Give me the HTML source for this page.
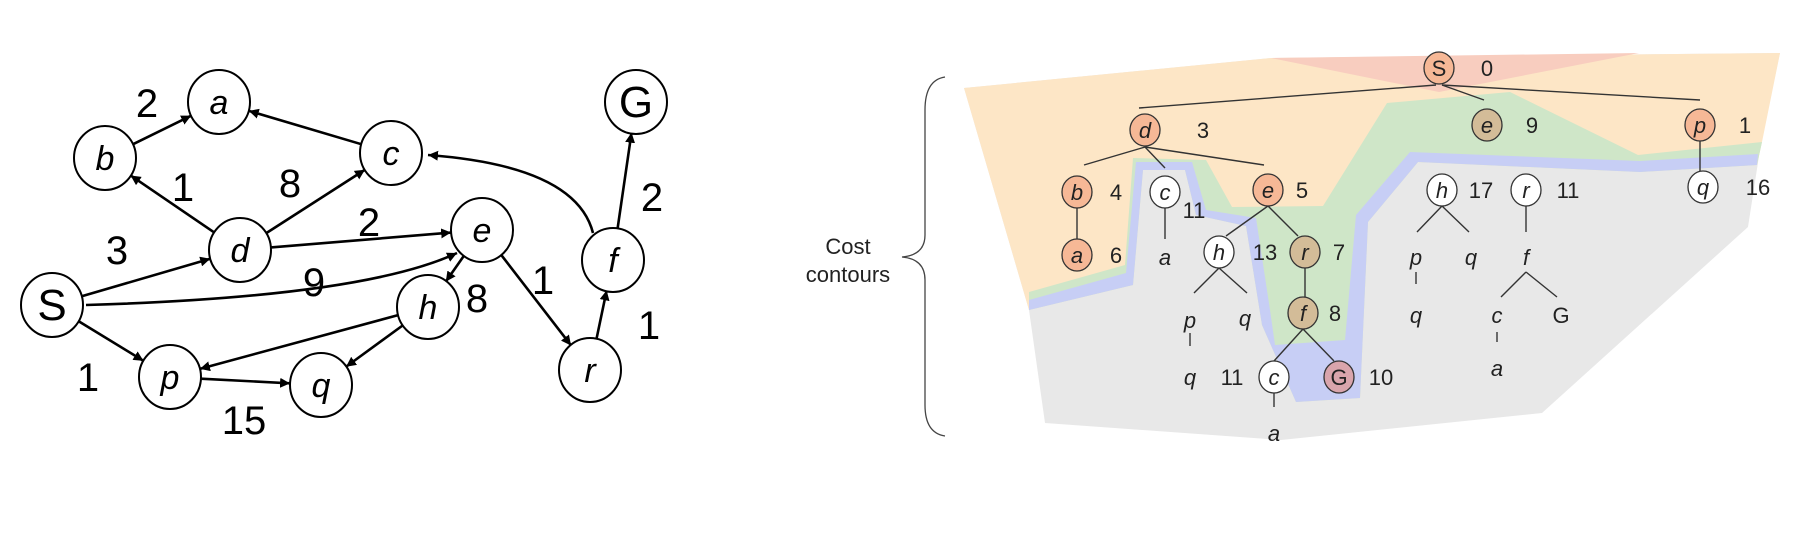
<!DOCTYPE html>
<html><head><meta charset="utf-8"><style>
html,body{margin:0;padding:0;background:#fff;}
svg{display:block;font-family:"Liberation Sans",Arial,sans-serif;}
</style></head><body>
<svg id="fig" width="1812" height="538" viewBox="0 0 1812 538">
<defs><marker id="ah" viewBox="0 0 10 10" refX="10" refY="5" markerWidth="10" markerHeight="10" markerUnits="userSpaceOnUse" orient="auto"><path d="M0,0L10,5L0,10z" fill="#000"/></marker></defs>
<g id="graph"></g>
<g id="tree"></g>
</svg>
<script>
const NS="http://www.w3.org/2000/svg";
const gNodes=[["S",52,305,false],["a",219,102,true],["b",105,158,true],["c",391,153,true],["d",240,250,true],["e",482,230,true],["f",613,260,true],["G",636,102,false],["h",428,307,true],["p",170,377,true],["q",321,385,true],["r",590,370,true]];
const gEdges=[["S","d"],["S","p"],["d","b"],["d","c"],["d","e"],["b","a"],["c","a"],["e","h"],["e","r"],["h","p"],["h","q"],["p","q"],["r","f"],["f","G"]];
const gCurves=[[86,305,363,297,457,253],[593,233,576,166,428,155]];
const gWeights=[["2",147,103],["1",183,187],["8",290,183],["2",369,222],["3",117,250],["9",314,282],["8",477,298],["1",543,280],["2",652,197],["1",649,325],["1",88,377],["15",244,420]];
function mk(t,a,p){const e=document.createElementNS(NS,t);for(const k in a)e.setAttribute(k,a[k]);(p||document.getElementById('fig')).appendChild(e);return e;}
const G1=document.getElementById('graph');
const pos={};gNodes.forEach(n=>pos[n[0]]=n);
const R=31;
gEdges.forEach(([u,v])=>{const A=pos[u],B=pos[v];const dx=B[1]-A[1],dy=B[2]-A[2],L=Math.hypot(dx,dy);
 const l=mk('line',{x1:A[1]+dx/L*R,y1:A[2]+dy/L*R,x2:B[1]-dx/L*R,y2:B[2]-dy/L*R,stroke:'#000','stroke-width':2.6,'marker-end':'url(#ah)'},G1);
 
 });
gCurves.forEach((c,i)=>{const p=mk('path',{d:`M${c[0]},${c[1]}Q${c[2]},${c[3]} ${c[4]},${c[5]}`,fill:'none',stroke:'#000','stroke-width':2.6,'marker-end':'url(#ah)'},G1);
 
 });
gNodes.forEach(n=>{const c=mk('ellipse',{cx:n[1],cy:n[2],rx:R,ry:R+1,fill:'#fff',stroke:'#000','stroke-width':2},G1);
 
 
 const t=mk('text',{x:n[1],y:n[2]+(n[3]?12:15),'text-anchor':'middle','font-size':n[3]?34:44,'font-style':n[3]?'italic':'normal'},G1);t.textContent=n[0];
 
 });
gWeights.forEach(w=>{const t=mk('text',{x:w[1],y:w[2]+14,'text-anchor':'middle','font-size':40},G1);t.textContent=w[0];
 
 });

// ---- search tree ----
const T=document.getElementById('tree');
const outerTop=[[964,88],[1271,58],[1780,53],[1761,143]];
const outerRest=[[1748,227],[1542,413],[1281,440],[1045,423],[1029,310]];
const bLow=[[1029,310],[1133,285],[1143,170],[1185,170],[1196,215],[1246,226],[1262,325],[1296,402],[1360,398],[1368,222],[1418,162],[1640,172],[1757,165]];
const bBlue=[[1029,300],[1126,273],[1136,162],[1192,162],[1206,210],[1256,218],[1270,310],[1275,345],[1345,340],[1356,215],[1410,152],[1640,161],[1758,154]];
const gTop=[[1029,292],[1125,265],[1133,158],[1206,160],[1232,207],[1323,206],[1387,103],[1510,92],[1638,155],[1762,142]];
function poly(pts,fill,name){const p=mk('polygon',{points:pts.map(p=>p.join(',')).join(' '),fill:fill},T);
 
 }
poly(outerTop.concat(outerRest),'#e8e8e8','cost-region-gray');
poly([[1029,310],[964,88],[1271,58],[1780,53],[1762,142]].concat(bLow.slice().reverse()),'#fde6c6','cost-region-orange');
poly(gTop.concat(bLow.slice().reverse()),'#cfe6c8','cost-region-green');
poly(bBlue.concat(bLow.slice().reverse()),'#c7cef5','cost-region-blue');
poly([[1271,58],[1639,53],[1439,92]],'#f8cdbf','cost-region-pink');

const tLines=[[1436,85,1139,108],[1442,85,1484,100],[1442,85,1700,100],[1145,147,1084,165],[1145,147,1165,168],[1145,147,1264,165],[1700,141,1700,171],[1077,208,1077,239],[1165,208,1165,239],[1268,206,1226,236],[1268,206,1298,236],[1442,206,1417,232],[1442,206,1469,232],[1526,206,1526,232],[1219,268,1194,293],[1219,268,1247,293],[1305,268,1305,297],[1303,329,1274,361],[1303,329,1334,361],[1526,272,1501,297],[1526,272,1557,297],[1416,272,1416,284],[1190,333,1190,346],[1497,332,1497,342],[1274,393,1274,407]];
tLines.forEach(l=>{const e=mk('line',{x1:l[0],y1:l[1],x2:l[2],y2:l[3],stroke:'#333','stroke-width':1.4},T);
 
 });
const tNodes=[["S",1439,68,"#f6b896",false],["d",1145,130,"#f6b896",true],["e",1487,125,"#d3bc98",true],["p",1700,125,"#f6b896",true],["b",1077,192,"#f6b896",true],["c",1165,192,"#fff",true],["e",1268,190,"#f6b896",true],["h",1442,190,"#fff",true],["r",1526,190,"#fff",true],["q",1703,187,"#fff",true],["a",1077,255,"#f6b896",true],["h",1219,252,"#fff",true],["r",1305,252,"#d3bc98",true],["f",1303,313,"#d3bc98",true],["c",1274,377,"#fff",true],["G",1339,377,"#d9a5ac",false]];
tNodes.forEach(n=>{const c=mk('ellipse',{cx:n[1],cy:n[2],rx:15,ry:16,fill:n[3],stroke:'#333','stroke-width':1.3},T);
 
 
 const t=mk('text',{x:n[1],y:n[2]+8,'text-anchor':'middle','font-size':22,'font-style':n[4]?'italic':'normal',fill:'#222'},T);t.textContent=n[0];
 
 });
const tTexts=[["0",1487,68,0],["3",1203,130,0],["9",1532,125,0],["1",1745,125,0],["4",1116,192,0],["11",1194,210,0],["5",1302,190,0],["17",1481,190,0],["11",1568,190,0],["16",1758,187,0],["6",1116,255,0],["a",1165,257,1],["13",1265,252,0],["7",1339,252,0],["p",1416,257,1],["q",1471,257,1],["f",1526,257,1],["p",1190,320,1],["q",1245,318,1],["8",1335,313,0],["q",1416,315,1],["c",1497,315,1],["G",1561,315,0],["q",1190,377,1],["11",1232,377,0],["10",1381,377,0],["a",1497,368,1],["a",1274,433,1]];
tTexts.forEach(s=>{const t=mk('text',{x:s[1],y:s[2]+8,'text-anchor':'middle','font-size':22,'font-style':s[3]?'italic':'normal',fill:'#222'},T);t.textContent=s[0];
 
 });
const br=mk('path',{d:'M945,77 Q925,80 925,110 L925,235 Q925,255 902,257 Q925,259 925,280 L925,405 Q925,433 945,436',fill:'none',stroke:'#444','stroke-width':1.3},T);


[["Cost",254],["contours",282]].forEach(s=>{const t=mk('text',{x:848,y:s[1],'text-anchor':'middle','font-size':22,fill:'#222'},T);t.textContent=s[0];
 
 });
</script>
</body></html>
